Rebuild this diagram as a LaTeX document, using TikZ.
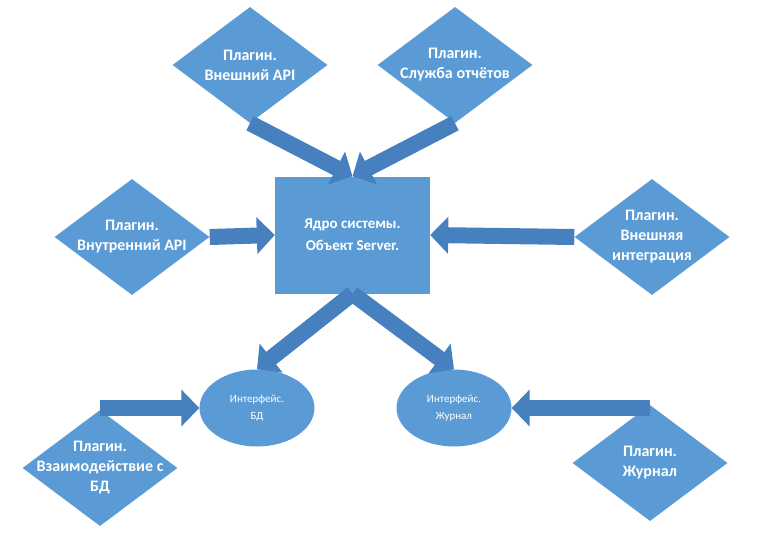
\documentclass[tikz,border=0pt]{standalone}
\usepackage{fontspec}
\setmainfont{Carlito}
\usetikzlibrary{shapes.geometric, arrows.meta}
\definecolor{plugcolor}{RGB}{91,155,213}
\definecolor{arrowcolor}{RGB}{70,128,190}

\begin{document}
\begin{tikzpicture}[
    x=1pt, y=-1pt,
    plugin/.style={diamond, fill=plugcolor, minimum width=155pt, minimum height=116pt, inner sep=-40pt, text=white, font=\bfseries\fontsize{16}{20}\selectfont, align=center},
    core/.style={rectangle, fill=plugcolor, minimum width=155pt, minimum height=117pt, text=white, font=\bfseries\fontsize{15}{22}\selectfont, align=center},
    iface/.style={ellipse, fill=plugcolor, minimum width=115pt, minimum height=77pt, inner sep=0pt, text=white, font=\fontsize{11}{17}\selectfont, align=center},
    bigarrow/.style={draw=arrowcolor, line width=16pt, -{Triangle[width=36pt, length=18pt]}}
]
    \useasboundingbox (0,0) rectangle (759,532);

    % Core
    \node[core] (core) at (352.5,235) {Ядро системы.\\Объект Server.};

    % Plugins
    \node[plugin] (apiext) at (250,65) {Плагин.\\Внешний API};
    \node[plugin] (reports) at (455,65) {Плагин.\\Служба отчётов};
    \node[plugin] (apiint) at (132,237) {Плагин.\\Внутренний API};
    \node[plugin] (integr) at (652,237) {Плагин.\\Внешняя\\интеграция};
    \node[plugin] (dbplug) at (100,468) {Плагин.\\Взаимодействие с\\БД};
    \node[plugin] (logplug) at (650,463) {Плагин.\\Журнал};

    % Interfaces
    \node[iface] (dbif) at (257,408) {Интерфейс.\\БД};
    \node[iface] (logif) at (454,408) {Интерфейс.\\Журнал};

    % Connections
    \draw[bigarrow] (apiext.south) -- (core.north);
    \draw[bigarrow] (reports.south) -- (core.north);
    \draw[bigarrow] (apiint.east) -- (core.west);
    \draw[bigarrow] (integr.west) -- (core.east);
    \draw[bigarrow] (core.south) -- (dbif.north);
    \draw[bigarrow] (core.south) -- (logif.north);
    \draw[bigarrow] (dbplug.north |- dbif.west) -- (dbif.west);
    \draw[bigarrow] (logplug.north |- logif.east) -- (logif.east);
\end{tikzpicture}
\end{document}
